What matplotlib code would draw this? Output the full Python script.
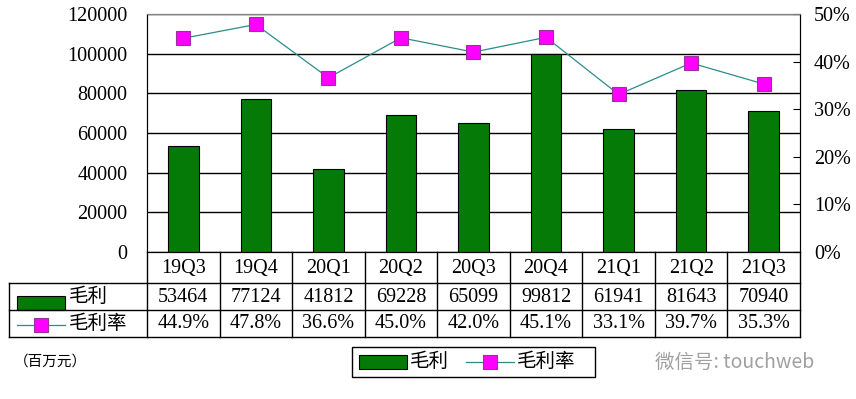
import numpy as np
import matplotlib.pyplot as plt
from matplotlib.lines import Line2D
from matplotlib.patches import Rectangle
from matplotlib.transforms import blended_transform_factory

plt.rcParams['font.family'] = ['Liberation Serif', 'Noto Sans CJK SC']

quarters = ['19Q3', '19Q4', '20Q1', '20Q2', '20Q3', '20Q4', '21Q1', '21Q2', '21Q3']
gross_profit = [53464, 77124, 41812, 69228, 65099, 99812, 61941, 81643, 70940]
gross_margin = [44.9, 47.8, 36.6, 45.0, 42.0, 45.1, 33.1, 39.7, 35.3]

W, H = 856, 399
fig = plt.figure(figsize=(W / 100, H / 100), dpi=100)

def fx(px):
    return px / W

def fy(py):
    return 1 - py / H

green = '#067A06'
mag = '#FF00FF'
line_c = '#2E8B8B'
fs = 14.5

ax = fig.add_axes([fx(147), fy(252), fx(800) - fx(147), fy(14) - fy(252)])
x = np.arange(len(quarters))
ax.bar(x, gross_profit, width=0.42, color=green, edgecolor='black', linewidth=0.8, zorder=3)
ax.set_xlim(-0.5, len(quarters) - 0.5)
ax.set_ylim(0, 120000)
ax.set_yticks(np.arange(0, 120001, 20000))
ax.yaxis.grid(True, color='black', linewidth=1, zorder=0)
ax.tick_params(axis='y', length=0, labelsize=fs, pad=14)
ax.set_xticks([])
ax.spines['top'].set_color('gray')
for s in ['left', 'bottom', 'right']:
    ax.spines[s].set_color('black')

ax2 = ax.twinx()
ax2.plot(x, gross_margin, color=line_c, linewidth=0.9, marker='s', markersize=10.5,
         markerfacecolor=mag, markeredgecolor='#993399', markeredgewidth=0.8, zorder=4)
ax2.set_ylim(0, 50)
ax2.set_yticks(np.arange(0, 51, 10))
ax2.set_yticklabels([f'{v}%' for v in range(0, 51, 10)])
ax2.tick_params(axis='y', direction='in', length=5, labelsize=fs, pad=10)
ax2.spines['top'].set_color('gray')

# data table under the chart
tr = blended_transform_factory(ax.transData, fig.transFigure)
lw = 1.0
for py in [283, 310, 337]:
    fig.add_artist(Line2D([fx(9), fx(800)], [fy(py), fy(py)], color='black', lw=lw))
fig.add_artist(Line2D([fx(9), fx(9)], [fy(283), fy(337)], color='black', lw=lw))
for b in np.arange(-0.5, len(quarters)):
    fig.add_artist(Line2D([b, b], [fy(252), fy(337)], color='black', lw=lw, transform=tr))

for i, q in enumerate(quarters):
    fig.text(i, fy(268), q, transform=tr, ha='center', va='center', fontsize=fs)
    fig.text(i, fy(297), str(gross_profit[i]), transform=tr, ha='center', va='center', fontsize=fs)
    fig.text(i, fy(324), f'{gross_margin[i]:.1f}%', transform=tr, ha='center', va='center', fontsize=fs)

fig.add_artist(Rectangle((fx(17), fy(310)), fx(65) - fx(17), fy(296) - fy(310),
                         facecolor=green, edgecolor='black', lw=0.8))
fig.text(fx(69), fy(297), '毛利', ha='left', va='center', fontsize=14)
fig.add_artist(Line2D([fx(17), fx(65)], [fy(325), fy(325)], color=line_c, lw=0.9))
fig.add_artist(Line2D([fx(41)], [fy(325)], marker='s', markersize=10.5, markerfacecolor=mag,
                      markeredgecolor='#993399', markeredgewidth=0.8))
fig.text(fx(69), fy(324), '毛利率', ha='left', va='center', fontsize=14)

fig.text(fx(14), fy(362), '（百万元）', ha='left', va='center', fontsize=10.5)

# legend box
fig.add_artist(Rectangle((fx(352), fy(377)), fx(595) - fx(352), fy(347) - fy(377),
                         facecolor='white', edgecolor='black', lw=1))
fig.add_artist(Rectangle((fx(359), fy(369)), fx(407) - fx(359), fy(355) - fy(369),
                         facecolor=green, edgecolor='black', lw=0.8))
fig.text(fx(410), fy(362), '毛利', ha='left', va='center', fontsize=14)
fig.add_artist(Line2D([fx(466), fx(514)], [fy(362), fy(362)], color=line_c, lw=0.9))
fig.add_artist(Line2D([fx(490)], [fy(362)], marker='s', markersize=10.5, markerfacecolor=mag,
                      markeredgecolor='#993399', markeredgewidth=0.8))
fig.text(fx(517), fy(362), '毛利率', ha='left', va='center', fontsize=14)

fig.text(fx(655), fy(362), '微信号: touchweb', ha='left', va='center', fontsize=14,
         color='#a0a0a0', family=['Noto Sans CJK SC', 'DejaVu Sans'])

fig.savefig('out.png', dpi=100)
